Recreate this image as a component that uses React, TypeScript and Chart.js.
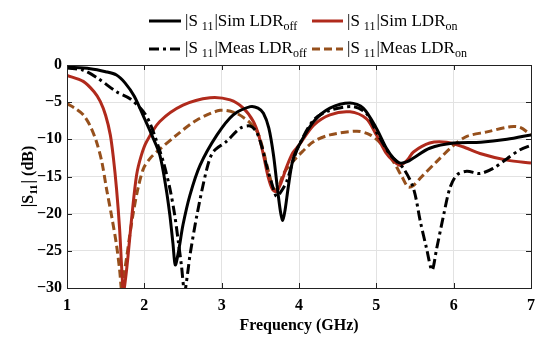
import React, { useEffect, useRef } from "react";
import { Chart, registerables } from "chart.js";
Chart.register(...registerables);

// ---- data ----
const freqSimOff = [1.0,1.3,1.5,1.64,1.75,1.87,2.01,2.1,2.2,2.28,2.33,2.37,2.40,2.44,2.5,2.59,2.72,2.94,3.15,3.37,3.47,3.54,3.61,3.67,3.72,3.76,3.79,3.82,3.86,3.92,4.0,4.19,4.4,4.66,4.83,5.0,5.13,5.22,5.31,5.4,5.48,5.69,6.0,6.35,6.69,7.0];
const s11SimOff = [-0.3,-0.5,-0.9,-1.35,-2.4,-4.2,-7.4,-9.5,-12.1,-16.5,-20.2,-24,-26.9,-25.2,-21.5,-17.5,-13.5,-9.4,-6.7,-5.6,-5.8,-6.5,-8.5,-12.1,-16.5,-19.7,-20.9,-19.5,-16.5,-12.8,-10.8,-7.6,-5.8,-5.1,-5.8,-8.5,-11.2,-12.5,-13.2,-13.0,-12.5,-11.2,-10.5,-10.4,-10.0,-9.4];

const freqMeasOff = [1.0,1.21,1.4,1.64,1.81,1.99,2.08,2.16,2.25,2.33,2.39,2.44,2.48,2.52,2.56,2.59,2.68,2.81,2.89,3.06,3.24,3.37,3.45,3.52,3.58,3.65,3.71,3.77,3.84,3.92,4.0,4.19,4.4,4.7,4.87,5.0,5.18,5.35,5.48,5.57,5.65,5.72,5.78,5.87,5.95,6.04,6.17,6.34,6.51,6.69,6.86,7.0];
const s11MeasOff = [-0.4,-0.7,-1.8,-3.6,-4.5,-6.3,-8.0,-10.3,-13.2,-16.6,-20,-23.8,-27,-30.5,-28,-25.6,-20.2,-13.9,-11.7,-10.3,-8.5,-8.2,-9.0,-11,-13.5,-16,-17.7,-17,-15.7,-13,-10.8,-7.4,-6.1,-5.6,-6.5,-9.0,-12.1,-13.9,-16.6,-21.1,-24.7,-27.6,-24.7,-20.2,-16.6,-14.8,-14.3,-14.6,-13.9,-12.6,-11.4,-10.8];

const freqSimOn = [1.0,1.21,1.35,1.43,1.5,1.56,1.6,1.64,1.68,1.71,1.73,1.76,1.79,1.84,1.9,1.96,2.03,2.2,2.5,2.85,3.11,3.28,3.41,3.48,3.54,3.6,3.66,3.71,3.77,3.84,3.92,4.0,4.19,4.4,4.66,4.87,5.0,5.13,5.22,5.31,5.4,5.48,5.69,5.91,6.12,6.34,6.69,7.0];
const s11SimOn = [-1.4,-2.2,-3.6,-4.9,-6.8,-9.4,-12.5,-16.6,-22,-27.8,-30.5,-28.5,-25.6,-20.2,-14.8,-12.2,-10.3,-7.6,-5.4,-4.4,-4.7,-5.8,-7.6,-9.5,-12.1,-15,-16.8,-17,-15.8,-13.7,-11.8,-10.8,-8.1,-6.7,-6.3,-7.2,-9.4,-11.9,-12.9,-13.5,-12.8,-11.7,-10.5,-10.4,-11.0,-11.9,-12.8,-13.2];

const freqMeasOn = [1.0,1.1,1.21,1.3,1.38,1.45,1.51,1.58,1.64,1.68,1.71,1.74,1.77,1.81,1.86,1.92,1.99,2.08,2.16,2.42,2.68,2.98,3.19,3.37,3.47,3.54,3.61,3.67,3.72,3.8,3.92,4.0,4.19,4.4,4.75,4.92,5.05,5.22,5.33,5.41,5.48,5.57,5.78,6.0,6.17,6.43,6.73,6.86,7.0];
const s11MeasOn = [-5.2,-5.8,-6.7,-8.2,-10.3,-13,-16.6,-20.5,-24.2,-27.5,-30.5,-28,-26,-23,-19.7,-16.5,-13.9,-12.5,-11.7,-9.4,-7.4,-6.1,-6.5,-7.8,-9.2,-11.6,-14.5,-16.6,-16.8,-14.6,-13.0,-12.1,-10.3,-9.4,-8.9,-9.4,-10.5,-13.0,-15.0,-16.4,-16.2,-15.2,-13.0,-10.8,-9.6,-9.0,-8.3,-8.4,-9.4];

const xTicks = [1, 2, 3, 4, 5, 6, 7];
const yTicks = [0, -5, -10, -15, -20, -25, -30];
const legendMain = ["|S", "|Sim LDR", "|Meas LDR"];
const legendSub = ["11", "off", "on"];
const xTitle = "Frequency (GHz)";

const SERIF = "'Liberation Serif', 'Times New Roman', serif";
const BLACK = "#000000";
const RED = "#B02A1C";
const BROWN = "#96501C";

const toPts = (xs: number[], ys: number[]) => xs.map((x, i) => ({ x, y: ys[i] }));

type Part = { t: string; sub?: boolean };

function drawRich(ctx: CanvasRenderingContext2D, parts: Part[], x: number, y: number, mainFont: string, subFont: string, subDy: number, dryRun = false) {
  let cx = x;
  for (const p of parts) {
    ctx.font = p.sub ? subFont : mainFont;
    if (!dryRun) ctx.fillText(p.t, cx, y + (p.sub ? subDy : 0));
    cx += ctx.measureText(p.t).width + (p.sub ? 1 : 0);
  }
  return cx - x;
}

const decorPlugin = {
  id: "decor",
  afterDraw(chart: any) {
    const ctx: CanvasRenderingContext2D = chart.ctx;
    const { left, right, top, bottom } = chart.chartArea;
    const xs = chart.scales.x;
    const ys = chart.scales.y;
    ctx.save();
    ctx.strokeStyle = "#222";
    ctx.lineWidth = 1;
    ctx.setLineDash([]);
    ctx.strokeRect(Math.round(left) + 0.5, Math.round(top) + 0.5, Math.round(right - left), Math.round(bottom - top));
    const tl = 5;
    ctx.beginPath();
    for (const v of xTicks) {
      const px = Math.round(xs.getPixelForValue(v)) + 0.5;
      ctx.moveTo(px, bottom); ctx.lineTo(px, bottom - tl);
      ctx.moveTo(px, top); ctx.lineTo(px, top + tl);
    }
    for (const v of yTicks) {
      const py = Math.round(ys.getPixelForValue(v)) + 0.5;
      ctx.moveTo(left, py); ctx.lineTo(left + tl, py);
      ctx.moveTo(right, py); ctx.lineTo(right - tl, py);
    }
    ctx.stroke();

    ctx.fillStyle = "#000";
    ctx.textBaseline = "alphabetic";
    ctx.textAlign = "left";
    ctx.font = `bold 16px ${SERIF}`;
    const xw = ctx.measureText(xTitle).width;
    ctx.fillText(xTitle, (left + right) / 2 - xw / 2, 330);
    const yParts: Part[] = [{ t: "|S" }, { t: "11", sub: true }, { t: "| (dB)" }];
    const mf = `bold 16px ${SERIF}`;
    const sf = `bold 11px ${SERIF}`;
    ctx.save();
    ctx.translate(33, (top + bottom) / 2);
    ctx.rotate(-Math.PI / 2);
    const yw = drawRich(ctx, yParts, 0, 0, mf, sf, 4, true);
    drawRich(ctx, yParts, -yw / 2, 0, mf, sf, 4);
    ctx.restore();

    const lmf = `17px ${SERIF}`;
    const lsf = `12px ${SERIF}`;
    const entries = [
      { x0: 149, x1: 181, tx: 185, y: 21, base: 26, color: BLACK, dash: [] as number[], main: legendMain[1], sub: legendSub[1] },
      { x0: 312, x1: 343, tx: 347, y: 21, base: 26, color: RED, dash: [] as number[], main: legendMain[1], sub: legendSub[2] },
      { x0: 149, x1: 181, tx: 185, y: 49, base: 53, color: BLACK, dash: [10, 4, 3, 4], main: legendMain[2], sub: legendSub[1] },
      { x0: 312, x1: 343, tx: 347, y: 49, base: 53, color: BROWN, dash: [8, 4], main: legendMain[2], sub: legendSub[2] },
    ];
    for (const e of entries) {
      ctx.strokeStyle = e.color;
      ctx.lineWidth = 3;
      ctx.setLineDash(e.dash);
      ctx.beginPath();
      ctx.moveTo(e.x0, e.y);
      ctx.lineTo(e.x1, e.y);
      ctx.stroke();
      ctx.setLineDash([]);
      ctx.fillStyle = "#000";
      const parts: Part[] = [{ t: legendMain[0] }, { t: " ", sub: true }, { t: legendSub[0], sub: true }, { t: e.main }, { t: e.sub, sub: true }];
      drawRich(ctx, parts, e.tx, e.base, lmf, lsf, 4);
    }
    ctx.restore();
  },
};

export default function App() {
  const ref = useRef<HTMLCanvasElement | null>(null);
  useEffect(() => {
    document.body.style.margin = "0";
    const canvas = ref.current;
    if (!canvas) return;
    const common = { pointRadius: 0, borderWidth: 3, fill: false, tension: 0.3 };
    const chart = new Chart(canvas, {
      type: "line",
      data: {
        datasets: [
          { ...common, label: "Sim off", data: toPts(freqSimOff, s11SimOff), borderColor: BLACK },
          { ...common, label: "Meas off", data: toPts(freqMeasOff, s11MeasOff), borderColor: BLACK, borderDash: [10, 4, 3, 4] },
          { ...common, label: "Sim on", data: toPts(freqSimOn, s11SimOn), borderColor: RED },
          { ...common, label: "Meas on", data: toPts(freqMeasOn, s11MeasOn), borderColor: BROWN, borderDash: [8, 4] },
        ],
      },
      options: {
        responsive: false,
        animation: false,
        devicePixelRatio: 1,
        layout: { padding: { top: 65, right: 19, left: 0, bottom: 0 } },
        plugins: { legend: { display: false }, tooltip: { enabled: false } },
        scales: {
          x: {
            type: "linear",
            min: 1,
            max: 7,
            afterFit: (s: any) => { s.height = 56; },
            afterBuildTicks: (s: any) => { s.ticks = xTicks.map((v) => ({ value: v })); },
            grid: { color: "#e2e2e2", drawTicks: false, lineWidth: 1 },
            border: { display: false },
            ticks: { padding: 8, color: "#000", font: { family: SERIF, size: 16, weight: "bold" }, maxRotation: 0 },
          },
          y: {
            type: "linear",
            min: -30,
            max: 0,
            afterFit: (s: any) => { s.width = 67; },
            afterBuildTicks: (s: any) => { s.ticks = yTicks.map((v) => ({ value: v })); },
            grid: { color: "#e2e2e2", drawTicks: false, lineWidth: 1 },
            border: { display: false },
            ticks: {
              padding: 5,
              color: "#000",
              font: { family: SERIF, size: 16, weight: "bold" },
              callback: (v: any) => String(v).replace("-", "\u2212"),
            },
          },
        },
      },
      plugins: [decorPlugin],
    } as any);
    return () => chart.destroy();
  }, []);
  return (
    <div style={{ width: 550, height: 344 }}>
      <canvas ref={ref} width={550} height={344} style={{ display: "block" }} />
    </div>
  );
}
